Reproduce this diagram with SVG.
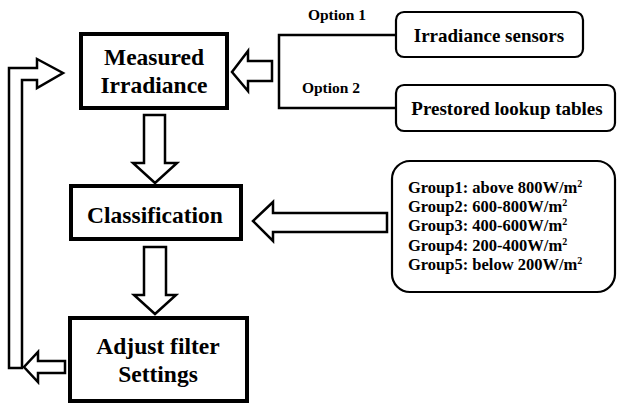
<svg xmlns="http://www.w3.org/2000/svg" width="617" height="405" viewBox="0 0 617 405">
<style>
.box{fill:#fff;stroke:#000;stroke-width:4}
.rbox{fill:#fff;stroke:#000;stroke-width:2.2}
.arr{fill:#fff;stroke:#000;stroke-width:2.5;stroke-linejoin:miter}
.ln{fill:none;stroke:#000;stroke-width:2.5}
text{font-family:"Liberation Serif","Times New Roman",serif;font-weight:bold;fill:#000}
.big{font-size:23.5px;text-anchor:middle}
.mid{font-size:19px;text-anchor:middle}
.opt{font-size:15.5px;text-anchor:middle}
.grp{font-size:16.5px}
.sup{font-size:10px}
</style>
<rect width="617" height="405" fill="#fff"/>
<g id="connectors">
<polygon class="arr" points="144,115 165,115 165,163 177,163 155,183 133,163 144,163"/>
<polygon class="arr" points="144,247 166,247 166,295 176,295 155,314 134,295 144,295"/>
<polygon class="arr" points="272,61 272,81 248,81 248,91 232,72 248,51 248,61"/>
<polyline class="ln" points="396,35 279,35 279,108 396,108"/>
<polygon class="arr" points="387,213 387,232 273,232 273,241 253,221 273,202 273,213"/>
<polygon class="arr" points="9,368 9,68 37,68 37,59 63,73 37,88 37,80 22,80 22,368"/>
<polygon class="arr" points="65,361 65,373 38,373 38,382 24,367 38,352 38,361"/>
<text class="opt" x="337" y="20">Option 1</text>
<text class="opt" x="331" y="93">Option 2</text>
</g>
<g id="measured">
<rect class="box" x="81" y="34" width="146" height="74"/>
<text class="big" x="154" y="65">Measured</text>
<text class="big" x="154" y="93">Irradiance</text>
</g>
<g id="classification">
<rect class="box" x="71" y="186" width="170" height="53"/>
<text class="big" x="155" y="223">Classification</text>
</g>
<g id="adjust">
<rect class="box" x="70" y="318" width="177" height="83"/>
<text class="big" x="158" y="354">Adjust filter</text>
<text class="big" x="158" y="382">Settings</text>
</g>
<g id="sensors">
<rect class="rbox" x="396" y="12" width="187" height="45" rx="8"/>
<text class="mid" x="489" y="42">Irradiance sensors</text>
</g>
<g id="lookup">
<rect class="rbox" x="396" y="85" width="219" height="46" rx="8"/>
<text class="mid" x="507" y="115">Prestored lookup tables</text>
</g>
<g id="groups">
<rect class="rbox" x="392" y="161" width="223" height="131" rx="18"/>
<text class="grp" x="408" y="193">Group1: above 800W/m<tspan class="sup" dy="-6">2</tspan></text>
<text class="grp" x="408" y="212">Group2: 600-800W/m<tspan class="sup" dy="-6">2</tspan></text>
<text class="grp" x="408" y="231">Group3: 400-600W/m<tspan class="sup" dy="-6">2</tspan></text>
<text class="grp" x="408" y="251">Group4: 200-400W/m<tspan class="sup" dy="-6">2</tspan></text>
<text class="grp" x="408" y="270">Group5: below 200W/m<tspan class="sup" dy="-6">2</tspan></text>
</g>
</svg>
